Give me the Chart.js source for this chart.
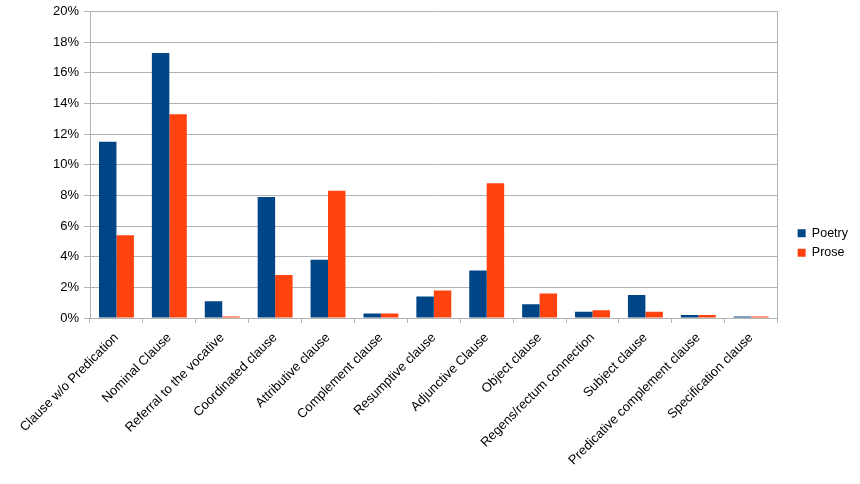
<!DOCTYPE html>
<html>
<head>
<meta charset="utf-8">
<script src="https://cdn.jsdelivr.net/npm/chart.js@4"></script>
<style>
  html, body { margin: 0; padding: 0; background: #ffffff; }
  #wrap { width: 860px; height: 484px; position: relative; }
</style>
</head>
<body>
<div id="wrap"><canvas id="c" width="860" height="484"></canvas></div>
<script>
const categories = [
  "Clause w/o Predication", "Nominal Clause", "Referral to the vocative",
  "Coordinated clause", "Attributive clause", "Complement clause",
  "Resumptive clause", "Adjunctive Clause", "Object clause",
  "Regens/rectum connection", "Subject clause",
  "Predicative complement clause", "Specification clause"
];
const poetry = [11.5, 17.3, 1.1, 7.9, 3.8, 0.3, 1.4, 3.1, 0.9, 0.4, 1.5, 0.2, 0.1];
const prose  = [5.4, 13.3, 0.1, 2.8, 8.3, 0.3, 1.8, 8.8, 1.6, 0.5, 0.4, 0.2, 0.1];
const seriesNames = ["Poetry", "Prose"];
const yTicks = [0, 2, 4, 6, 8, 10, 12, 14, 16, 18, 20];

Chart.defaults.font.family = "'Liberation Sans', Arial, sans-serif";
Chart.defaults.font.size = 13;
Chart.defaults.color = "#000000";

const gridColor = "#b3b3b3";

new Chart(document.getElementById("c"), {
  type: "bar",
  data: {
    labels: categories,
    datasets: [
      { label: seriesNames[0], data: poetry, backgroundColor: "#004586",
        categoryPercentage: 0.66, barPercentage: 1.0 },
      { label: seriesNames[1], data: prose, backgroundColor: "#ff420e",
        categoryPercentage: 0.66, barPercentage: 1.0 }
    ]
  },
  options: {
    responsive: false,
    animation: false,
    layout: { padding: { top: 10, right: 2, bottom: 8, left: 0 } },
    plugins: {
      legend: {
        position: "right",
        align: "center",
        labels: { boxWidth: 8, boxHeight: 8, padding: 7, font: { size: 12.5 }, color: "#000" }
      },
      tooltip: { enabled: false }
    },
    scales: {
      x: {
        grid: { drawOnChartArea: false, drawTicks: true, tickLength: 5, color: gridColor, offset: true },
        border: { color: gridColor },
        ticks: { minRotation: 45, maxRotation: 45, autoSkip: false, padding: 7, font: { size: 13 }, color: "#000" },
        afterFit: (s) => { s.height = 158; }
      },
      y: {
        min: 0, max: 20,
        afterBuildTicks: (s) => { s.ticks = yTicks.map(v => ({ value: v })); },
        grid: { color: gridColor, tickLength: 6 },
        border: { color: gridColor },
        ticks: { padding: 5, callback: (v) => v + "%", font: { size: 13, lineHeight: 1 }, color: "#000" },
        afterFit: (s) => { s.width = 90; }
      },
      y2: {
        position: "right",
        display: true,
        ticks: { display: false },
        grid: { drawOnChartArea: false, drawTicks: false },
        border: { color: gridColor },
        afterFit: (s) => { s.width = 13; }
      }
    }
  }
});
</script>
</body>
</html>
